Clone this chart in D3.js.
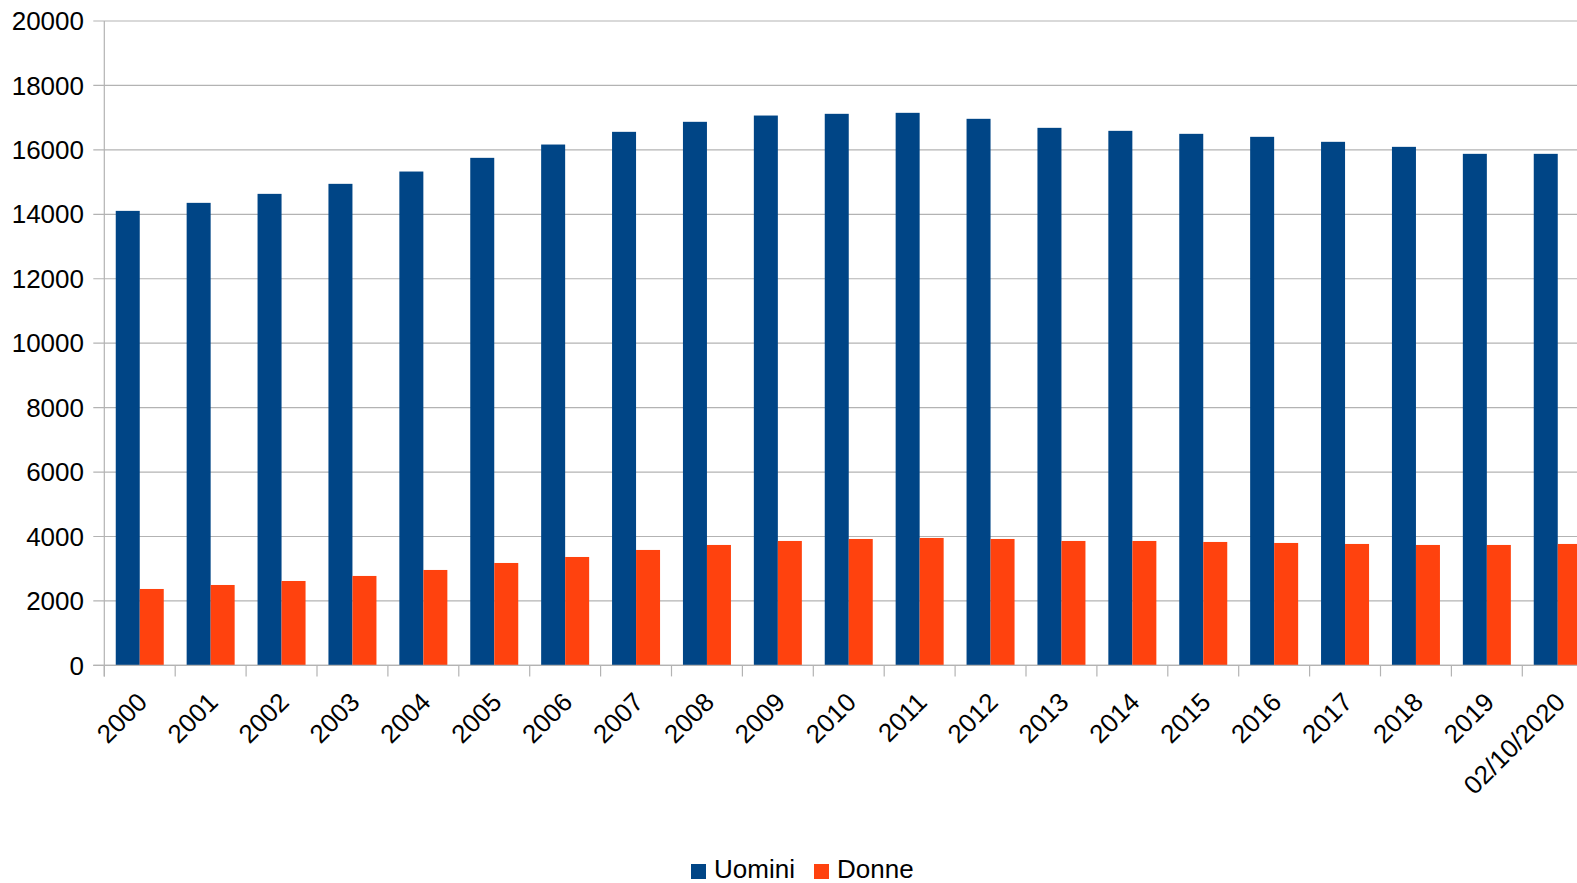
<!DOCTYPE html>
<html>
<head>
<meta charset="utf-8">
<script src="https://cdn.jsdelivr.net/npm/d3@7"></script>
<style>
  body { margin: 0; background: #fff; }
  text { font-family: "Liberation Sans", Arial, sans-serif; fill: #000; }
</style>
</head>
<body>
<div id="chart"></div>
<script>
var categories = ["2000", "2001", "2002", "2003", "2004", "2005", "2006", "2007", "2008", "2009",
                  "2010", "2011", "2012", "2013", "2014", "2015", "2016", "2017", "2018", "2019", "02/10/2020"];
var uomini = [14107, 14356, 14635, 14946, 15328, 15753, 16166, 16560, 16871, 17066,
              17119, 17150, 16964, 16684, 16591, 16498, 16405, 16250, 16094, 15877, 15877];
var donne = [2372, 2496, 2620, 2776, 2962, 3179, 3365, 3583, 3738, 3862,
             3924, 3955, 3924, 3862, 3862, 3831, 3800, 3769, 3738, 3738, 3769];
var seriesNames = ["Uomini", "Donne"];
var colors = ["#004586", "#ff420e"];
var yTicks = [0, 2000, 4000, 6000, 8000, 10000, 12000, 14000, 16000, 18000, 20000];

var width = 1577, height = 883;
var plotLeft = 104.3, plotTop = 21, plotBottom = 665.4;
var step = 70.9;

var svg = d3.select("#chart").append("svg")
    .attr("width", width)
    .attr("height", height);

var xScale = d3.scaleBand()
    .domain(categories)
    .range([plotLeft, plotLeft + step * categories.length]);

var xSub = d3.scaleBand()
    .domain(seriesNames)
    .range([0, step])
    .paddingInner(0)
    .paddingOuter(0.477);

var yScale = d3.scaleLinear()
    .domain([0, 20000])
    .range([plotBottom, plotTop]);

// gridlines
svg.append("g")
  .selectAll("line")
    .data(yTicks)
  .enter().append("line")
    .attr("x1", plotLeft - 11)
    .attr("x2", width)
    .attr("y1", d => yScale(d))
    .attr("y2", d => yScale(d))
    .attr("stroke", "#b3b3b3")
    .attr("stroke-width", 1.2);

// y labels
svg.append("g")
  .selectAll("text")
    .data(yTicks)
  .enter().append("text")
    .attr("x", 84)
    .attr("y", d => yScale(d))
    .attr("dy", "0.35em")
    .attr("text-anchor", "end")
    .style("font-size", "26px")
    .text(d => d);

// bars
var data = categories.map((c, i) => ({cat: c, values: [uomini[i], donne[i]]}));

var g = svg.append("g")
  .selectAll("g")
    .data(data)
  .enter().append("g")
    .attr("transform", d => "translate(" + xScale(d.cat) + ",0)");

g.selectAll("rect")
    .data(d => d.values.map((v, j) => ({name: seriesNames[j], value: v, color: colors[j]})))
  .enter().append("rect")
    .attr("x", d => xSub(d.name))
    .attr("width", xSub.bandwidth())
    .attr("y", d => yScale(d.value))
    .attr("height", d => plotBottom - yScale(d.value))
    .attr("fill", d => d.color);

// y axis line
svg.append("line")
    .attr("x1", plotLeft).attr("x2", plotLeft)
    .attr("y1", plotTop).attr("y2", plotBottom + 11)
    .attr("stroke", "#b3b3b3")
    .attr("stroke-width", 1.2);

// x axis line and ticks
svg.append("line")
    .attr("x1", plotLeft - 11).attr("x2", width)
    .attr("y1", plotBottom).attr("y2", plotBottom)
    .attr("stroke", "#b3b3b3")
    .attr("stroke-width", 1.2);

svg.append("g")
  .selectAll("line")
    .data(categories)
  .enter().append("line")
    .attr("x1", d => xScale(d))
    .attr("x2", d => xScale(d))
    .attr("y1", plotBottom)
    .attr("y2", plotBottom + 11)
    .attr("stroke", "#b3b3b3")
    .attr("stroke-width", 1.2);

// x labels
svg.append("g")
  .selectAll("text")
    .data(categories)
  .enter().append("text")
    .attr("transform", d => "translate(" + (xScale(d) + xScale.bandwidth() / 2 - 4) + "," + 691 + ") rotate(-45)")
    .attr("text-anchor", "end")
    .attr("dy", "0.7em")
    .style("font-size", "26px")
    .text(d => d);

// legend
var legend = svg.append("g");
var legendX = [691, 814];
seriesNames.forEach((name, i) => {
  legend.append("rect")
      .attr("x", legendX[i])
      .attr("y", 864)
      .attr("width", 15)
      .attr("height", 15)
      .attr("fill", colors[i]);
  legend.append("text")
      .attr("x", legendX[i] + 23)
      .attr("y", 878)
      .style("font-size", "26px")
      .text(name);
});
</script>
</body>
</html>
